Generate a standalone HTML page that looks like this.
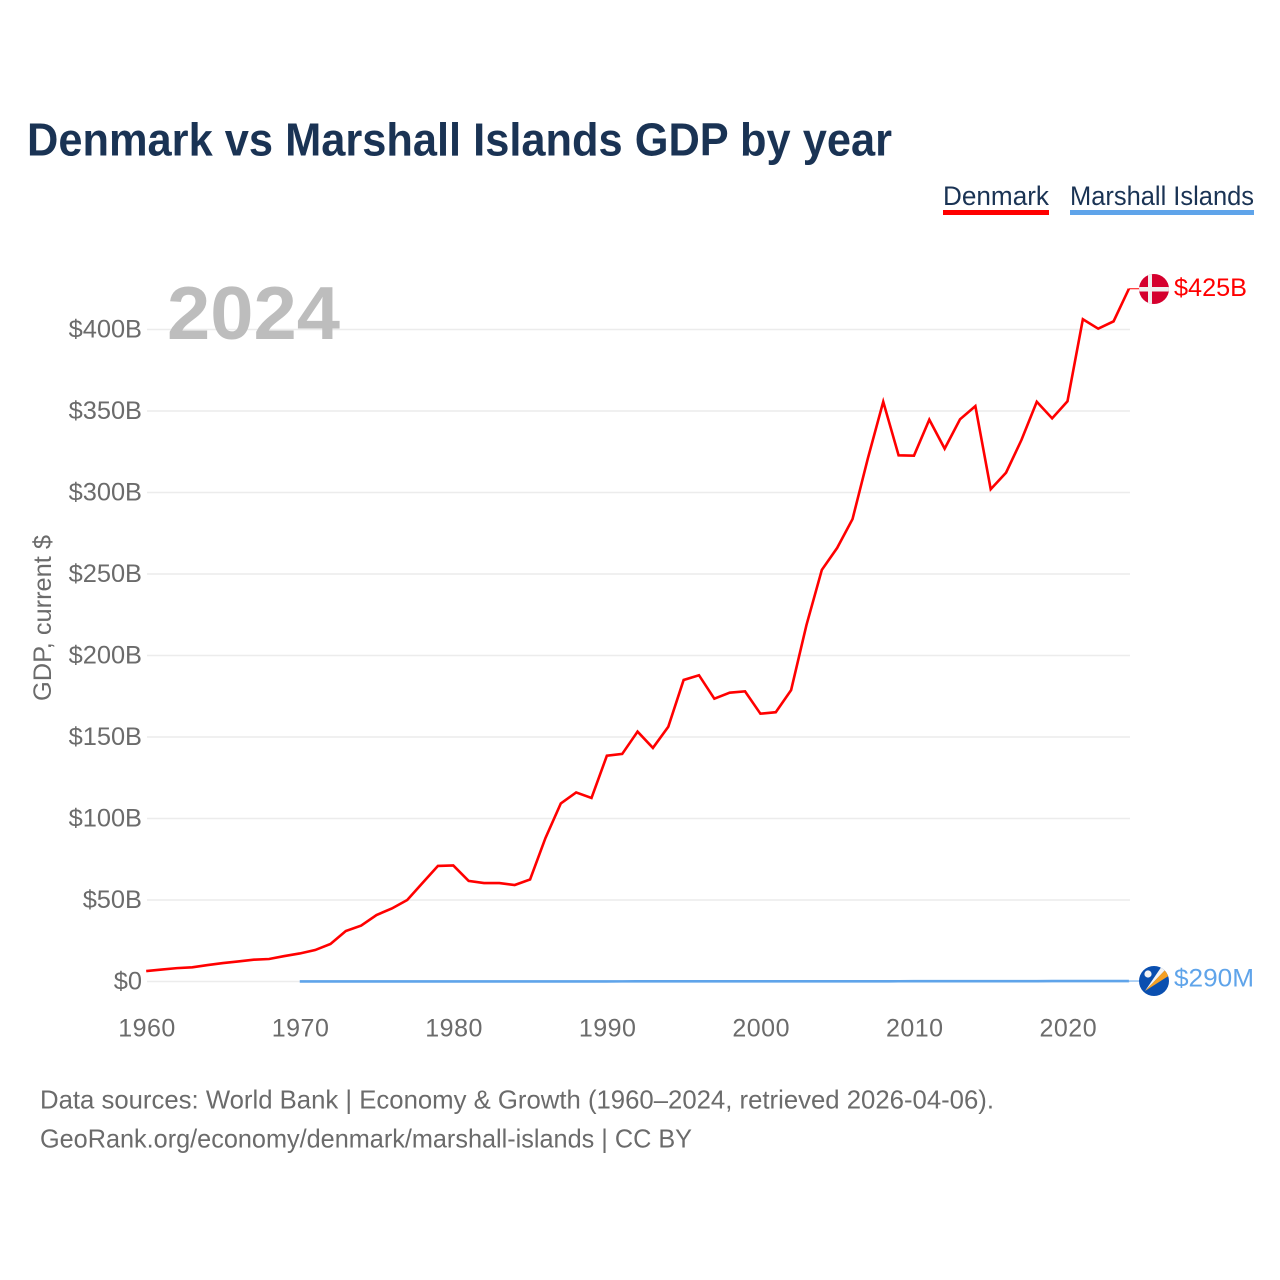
<!DOCTYPE html>
<html lang="en">
<head>
<meta charset="utf-8">
<title>Denmark vs Marshall Islands GDP by year</title>
<style>
html,body{margin:0;padding:0;background:#fff;width:1280px;height:1280px;overflow:hidden}
svg{display:block}
text{font-family:"Liberation Sans",sans-serif}
</style>
</head>
<body>
<svg id="chart" xmlns="http://www.w3.org/2000/svg" width="1280" height="1280" viewBox="0 0 1280 1280">
  <defs>
    <clipPath id="clip-dk"><circle cx="1154" cy="289" r="15"/></clipPath>
    <clipPath id="clip-mh"><circle cx="1154" cy="981" r="15"/></clipPath>
  </defs>
  <text x="27" y="155.5" font-size="46" font-weight="700" fill="#1a3354" textLength="865" lengthAdjust="spacingAndGlyphs">Denmark vs Marshall Islands GDP by year</text>

  <g>
    <g>
      <text x="943" y="205" font-size="27" fill="#1a3354" textLength="106" lengthAdjust="spacingAndGlyphs">Denmark</text>
      <rect x="943" y="210" width="106" height="5" fill="#ff0000"/>
    </g>
    <g>
      <text x="1070" y="205" font-size="27" fill="#1a3354" textLength="184" lengthAdjust="spacingAndGlyphs">Marshall Islands</text>
      <rect x="1070" y="210" width="184" height="5" fill="#5fa4ea"/>
    </g>
  </g>

  <g id="grid"></g>
  <g id="yticks"></g>
  <g id="xticks"></g>

  <text x="167" y="339" font-size="75" font-weight="700" fill="#bdbdbd" textLength="173" lengthAdjust="spacingAndGlyphs">2024</text>

  <text transform="translate(51,701) rotate(-90)" x="0" y="0" font-size="25" fill="#6b6b6b" textLength="166" lengthAdjust="spacingAndGlyphs">GDP, current $</text>

  <g id="series"></g>

  <g>
    <g clip-path="url(#clip-dk)">
      <rect x="1139" y="274" width="30" height="30" fill="#d5002e"/>
      <rect x="1148" y="274" width="4" height="30" fill="#f0f0f0"/>
      <rect x="1139" y="287" width="30" height="4.5" fill="#f0f0f0"/>
    </g>
  </g>
  <g>
    <g clip-path="url(#clip-mh)">
      <rect x="1139" y="966" width="30" height="30" fill="#0a4fb0"/>
      <polygon points="1145,991 1164,963 1168,967" fill="#f4f4f4"/>
      <polygon points="1145,991 1168,967 1170,975" fill="#f5a023"/>
      <circle cx="1148" cy="974" r="3.6" fill="#f4f4f4"/>
    </g>
  </g>

  <text id="label-dk" x="1174" y="296" font-size="25" fill="#ff0000" textLength="73" lengthAdjust="spacingAndGlyphs">$425B</text>
  <text id="label-mh" x="1174" y="986.5" font-size="25" fill="#5fa4ea" textLength="80" lengthAdjust="spacingAndGlyphs">$290M</text>

  <text x="40" y="1108.5" font-size="26" fill="#6b6b6b" textLength="954" lengthAdjust="spacingAndGlyphs">Data sources: World Bank | Economy &amp; Growth (1960–2024, retrieved 2026-04-06).</text>
  <text x="40" y="1147.5" font-size="26" fill="#6b6b6b" textLength="652" lengthAdjust="spacingAndGlyphs">GeoRank.org/economy/denmark/marshall-islands | CC BY</text>
</svg>
<script>
const yTickValues = [0, 50, 100, 150, 200, 250, 300, 350, 400];
const yTickLabels = ["$0", "$50B", "$100B", "$150B", "$200B", "$250B", "$300B", "$350B", "$400B"];
const xTickYears = [1960, 1970, 1980, 1990, 2000, 2010, 2020];
const denmarkStartYear = 1960;
const denmarkGdp = [6.4, 7.3, 8.2, 8.7, 10.1, 11.3, 12.3, 13.4, 13.8, 15.6,
  17.2, 19.3, 23, 31, 34.3, 40.8, 44.8, 50, 60.5, 70.9,
  71.2, 61.7, 60.4, 60.4, 59.2, 62.6, 88, 109.2, 116, 112.6,
  138.5, 139.6, 153.3, 143.3, 156.3, 185, 187.9, 173.5, 177.2, 178,
  164.3, 165.2, 178.8, 218.7, 252.5, 266, 283.7, 321, 355.7, 322.8,
  322.6, 344.7, 326.9, 344.9, 353, 302, 312.2, 332.2, 355.7, 345.5,
  356, 406.3, 400.5, 405, 425];
const marshallStartYear = 1970;
const marshallGdp = [0.03, 0.03, 0.03, 0.03, 0.03, 0.03, 0.03, 0.03, 0.03, 0.03,
  0.03, 0.03, 0.04, 0.04, 0.04, 0.05, 0.05, 0.06, 0.06, 0.07,
  0.07, 0.08, 0.09, 0.1, 0.1, 0.11, 0.11, 0.11, 0.11, 0.11,
  0.12, 0.12, 0.12, 0.13, 0.13, 0.13, 0.14, 0.14, 0.14, 0.15,
  0.17, 0.18, 0.18, 0.19, 0.2, 0.19, 0.19, 0.21, 0.22, 0.24,
  0.24, 0.25, 0.26, 0.28, 0.29];

const NS = "http://www.w3.org/2000/svg";
function xScale(year) { return 146.2 + (year - 1960) * 15.355; }
function yScale(val) { return 981.5 - val * 1.63; }
function pathFor(startYear, values) {
  return values.map(function (v, i) {
    return (i ? "L" : "M") + xScale(startYear + i).toFixed(2) + " " + yScale(v).toFixed(2);
  }).join(" ");
}
const gridG = document.getElementById("grid");
const yG = document.getElementById("yticks");
const xG = document.getElementById("xticks");
const seriesG = document.getElementById("series");

yTickValues.forEach(function (v, i) {
  const line = document.createElementNS(NS, "line");
  
  
  line.setAttribute("x1", 147);
  line.setAttribute("x2", 1130);
  line.setAttribute("y1", yScale(v));
  line.setAttribute("y2", yScale(v));
  line.setAttribute("stroke", "#ececec");
  line.setAttribute("stroke-width", 1.6);
  gridG.appendChild(line);
  const t = document.createElementNS(NS, "text");
  
  
  t.setAttribute("x", 142);
  t.setAttribute("y", yScale(v) + 8);
  t.setAttribute("text-anchor", "end");
  t.setAttribute("font-size", 25.4);
  t.setAttribute("fill", "#6b6b6b");
  t.textContent = yTickLabels[i];
  yG.appendChild(t);
});
xTickYears.forEach(function (y) {
  const t = document.createElementNS(NS, "text");
  
  
  t.setAttribute("x", xScale(y) + 0.8);
  t.setAttribute("y", 1036.5);
  t.setAttribute("text-anchor", "middle");
  t.setAttribute("font-size", 25);
  t.setAttribute("letter-spacing", "0.5");
  t.setAttribute("fill", "#6b6b6b");
  t.textContent = String(y);
  xG.appendChild(t);
});

const lastMh = marshallGdp[marshallGdp.length - 1];
const lastDk = denmarkGdp[denmarkGdp.length - 1];
const endX = xScale(denmarkStartYear + denmarkGdp.length - 1);

const connMh = document.createElementNS(NS, "line");


connMh.setAttribute("x1", endX);
connMh.setAttribute("x2", 1140);
connMh.setAttribute("y1", yScale(lastMh));
connMh.setAttribute("y2", yScale(lastMh));
connMh.setAttribute("stroke", "#5fa4ea");
connMh.setAttribute("stroke-width", 1);
seriesG.appendChild(connMh);

const connDk = document.createElementNS(NS, "line");


connDk.setAttribute("x1", endX);
connDk.setAttribute("x2", 1140);
connDk.setAttribute("y1", yScale(lastDk));
connDk.setAttribute("y2", yScale(lastDk));
connDk.setAttribute("stroke", "#ff0000");
connDk.setAttribute("stroke-width", 1);
seriesG.appendChild(connDk);

const lineMh = document.createElementNS(NS, "path");


lineMh.setAttribute("d", pathFor(marshallStartYear, marshallGdp));
lineMh.setAttribute("fill", "none");
lineMh.setAttribute("stroke", "#5fa4ea");
lineMh.setAttribute("stroke-width", 2.6);
seriesG.appendChild(lineMh);

const lineDk = document.createElementNS(NS, "path");


lineDk.setAttribute("d", pathFor(denmarkStartYear, denmarkGdp));
lineDk.setAttribute("fill", "none");
lineDk.setAttribute("stroke", "#ff0000");
lineDk.setAttribute("stroke-width", 2.6);
lineDk.setAttribute("stroke-linejoin", "miter");
seriesG.appendChild(lineDk);
</script>
</body>
</html>
